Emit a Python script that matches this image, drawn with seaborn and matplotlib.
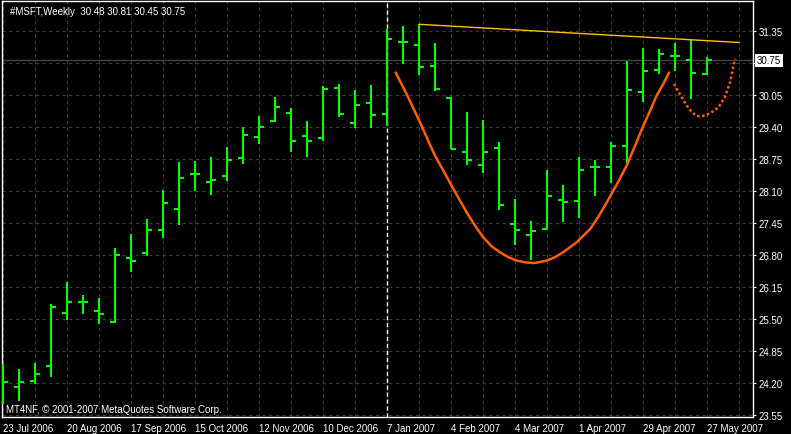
"""
MSFT weekly bar chart (MetaTrader style) with a cup-and-handle sketch.
"""

import matplotlib
matplotlib.use("Agg")
import matplotlib.pyplot as plt
import matplotlib.transforms as mtransforms
import seaborn as sns


# weekly OHLC, 23 Jul 2006 .. 27 May 2007
opens = [24.20, 24.11, 24.24, 24.53, 25.62, 25.83, 25.65, 25.43, 26.74, 26.83,
         27.31, 27.73, 28.44, 28.28, 28.39, 28.77, 29.20, 29.52, 29.68, 29.22,
         29.18, 30.19, 29.48, 29.89, 29.66, 31.13, 31.05, 30.64, 29.98, 28.89,
         28.63, 28.97, 27.42, 27.19, 27.32, 27.91, 27.90, 28.59, 28.59, 29.00,
         30.11, 30.56, 30.84, 30.76, 30.48]
highs = [24.58, 24.48, 24.61, 25.80, 26.24, 25.98, 25.93, 26.93, 27.23, 27.52,
         28.11, 28.68, 28.70, 28.78, 28.98, 29.39, 29.61, 30.00, 29.78, 29.52,
         30.22, 30.26, 30.14, 30.25, 31.38, 31.44, 31.49, 31.10, 30.00, 29.69,
         29.53, 29.08, 27.93, 27.48, 28.53, 28.21, 28.78, 28.72, 29.08, 30.73,
         30.99, 30.97, 31.10, 31.17, 30.81]
lows = [23.77, 23.83, 24.17, 24.32, 25.48, 25.60, 25.39, 25.41, 26.45, 26.78,
        27.13, 27.41, 28.10, 28.02, 28.30, 28.65, 29.05, 29.49, 28.89, 28.79,
        29.10, 29.59, 29.38, 29.38, 29.42, 30.68, 30.46, 30.12, 28.94, 28.63,
        28.45, 27.71, 27.00, 26.70, 27.32, 27.47, 27.55, 27.99, 28.25, 28.61,
        29.91, 30.48, 30.54, 29.96, 30.45]
closes = [24.21, 24.22, 24.38, 25.74, 25.83, 25.83, 25.60, 26.80, 26.67, 27.31,
          27.86, 28.36, 28.44, 28.32, 28.73, 29.24, 29.39, 29.79, 29.10, 29.10,
          30.17, 29.66, 29.85, 29.64, 31.18, 31.13, 30.62, 30.17, 28.94, 28.72,
          28.89, 27.80, 27.31, 27.29, 27.99, 27.88, 28.53, 28.59, 29.01, 30.14,
          30.54, 30.88, 30.83, 30.49, 30.75]

date_labels = ["23 Jul 2006", "20 Aug 2006", "17 Sep 2006", "15 Oct 2006",
               "12 Nov 2006", "10 Dec 2006", "7 Jan 2007", "4 Feb 2007",
               "4 Mar 2007", "1 Apr 2007", "29 Apr 2007", "27 May 2007"]
price_ticks = [23.55, 24.20, 24.85, 25.50, 26.15, 26.80, 27.45, 28.10,
               28.75, 29.40, 30.05, 30.70, 31.35]

# hand-drawn objects (bar index, price)
cup_x = [24.54, 25.23, 26.06, 27.00, 27.52, 28.04, 28.56, 28.98, 29.50,
         30.02, 30.54, 31.06, 31.58, 32.10, 32.63, 33.15, 33.46, 33.98,
         34.50, 35.02, 35.85, 36.69, 37.21, 37.73, 38.35, 38.98, 39.50,
         40.02, 40.44, 40.85, 41.27, 41.63]
cup_y = [30.50, 30.06, 29.49, 28.81, 28.51, 28.20, 27.90, 27.66, 27.39,
         27.15, 26.97, 26.85, 26.75, 26.68, 26.645, 26.63, 26.645, 26.68,
         26.75, 26.85, 27.05, 27.32, 27.57, 27.86, 28.22, 28.61, 29.01,
         29.42, 29.72, 30.03, 30.27, 30.50]
handle_x = [41.94, 42.31, 42.73, 43.00, 43.25, 43.50, 43.77, 44.19, 44.71,
            45.12, 45.44, 45.75]
handle_y = [30.27, 30.06, 29.83, 29.72, 29.64, 29.61, 29.62, 29.67, 29.79,
            30.00, 30.30, 30.78]
resist_x = [26.0, 46.0]
resist_y = [31.48, 31.11]
separator_bar = 24
last_price = 30.75

sns.set_style("dark", {"axes.facecolor": "black", "figure.facecolor": "black",
                       "axes.edgecolor": "white", "text.color": "white",
                       "xtick.color": "white", "ytick.color": "white"})
plt.rcParams["font.family"] = ["Liberation Sans", "DejaVu Sans"]
plt.rcParams["font.size"] = 7

fig = plt.figure(figsize=(7.91, 4.35), dpi=100)
ax = fig.add_axes([2 / 791, 17 / 435, 751 / 791, 416 / 435])

bars = list(range(len(closes)))

# grid
for p in price_ticks:
    ax.axhline(p, color="#3c3c3c", lw=0.8, ls=(0, (3, 3)), zorder=0)
for b in range(0, 48, 2):
    ax.axvline(b, color="#3c3c3c", lw=0.8, ls=(0, (3, 3)), zorder=0)
ax.axhline(last_price, color="#444444", lw=1, zorder=0.5)
ax.axvline(separator_bar, color="white", lw=1, ls=(0, (3, 2)), zorder=1)

# OHLC bars
ax.vlines(bars, lows, highs, color="#00ff00", lw=1.5, zorder=3)
ax.hlines(opens, [b - 0.3 for b in bars], bars, color="#00ff00", lw=1.5, zorder=3)
ax.hlines(closes, bars, [b + 0.3 for b in bars], color="#00ff00", lw=1.5, zorder=3)

# cup, handle and resistance line
sns.lineplot(x=cup_x, y=cup_y, ax=ax, color="#ff5f00", lw=1.8,
             estimator=None, zorder=4)
sns.lineplot(x=handle_x, y=handle_y, ax=ax, color="#ff5f00", lw=1.8,
             ls=(0, (1, 1)), estimator=None, zorder=4)
sns.lineplot(x=resist_x, y=resist_y, ax=ax, color="#ffc000", lw=1.0,
             estimator=None, zorder=4)

ax.set_xlim(-0.0625, 46.875)
ax.set_ylim(23.503, 31.953)
ax.grid(False)

for s in ax.spines.values():
    s.set_color("white")
    s.set_linewidth(1)

# the 30.70 label sits under the current-price box, so leave it blank
ax.yaxis.tick_right()
ax.set_yticks(price_ticks)
ax.set_yticklabels(["" if abs(p - 30.70) < 0.01 else f"{p:.2f}" for p in price_ticks])
ax.set_xticks(range(0, len(closes), 4))
ax.set_xticklabels(date_labels)
for lbl in ax.get_xticklabels():
    lbl.set_ha("left")
ax.tick_params(axis="y", length=2.5, width=0.8, pad=1.5, labelsize=7, colors="white")
ax.tick_params(axis="x", length=3, width=0.8, pad=1, labelsize=7, colors="white")
ax.set_xlabel("")
ax.set_ylabel("")

trans = mtransforms.blended_transform_factory(ax.transAxes, ax.transData)
ax.text(1.005, last_price, f"{last_price:.2f}", transform=trans, ha="left",
        va="center", color="black", fontsize=7, clip_on=False, zorder=10,
        bbox=dict(facecolor="white", edgecolor="none", pad=1.2))

ax.text(8 / 751, 0.976, f"#MSFT,Weekly  {opens[-1]:.2f} {highs[-1]:.2f} "
        f"{lows[-1]:.2f} {closes[-1]:.2f}", transform=ax.transAxes,
        ha="left", va="center", color="white", fontsize=7)
ax.text(4 / 751, 0.019, "MT4NF, \u00a9 2001-2007 MetaQuotes Software Corp.",
        transform=ax.transAxes, ha="left", va="center", color="white", fontsize=7)

fig.savefig("out.png", dpi=100, facecolor="black")
